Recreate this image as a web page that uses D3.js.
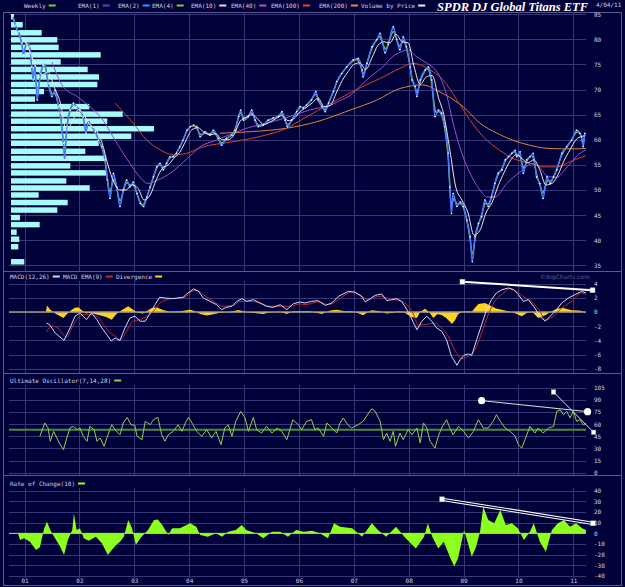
<!DOCTYPE html>
<html>
<head>
<meta charset="utf-8">
<script src="https://cdn.jsdelivr.net/npm/d3@7"></script>
<style>
  body { margin: 0; background: #02023a; }
  svg { display: block; }
</style>
</head>
<body>
<div id="chart"></div>
<script>
// ---- data (dates as fractional years) ----
const yearTicks = [2001, 2002, 2003, 2004, 2005, 2006, 2007, 2008, 2009, 2010, 2011];
const yearLabels = ["01", "02", "03", "04", "05", "06", "07", "08", "09", "10", "11"];
const priceTicks = [85, 80, 75, 70, 65, 60, 55, 50, 45, 40, 35];
const macdTicks = [4, 2, 0, -2, -4, -6, -8];
const uoTicks = [105, 90, 75, 60, 45, 30, 15, 0];
const rocTicks = [40, 30, 20, 10, 0, -10, -20, -30, -40];

const weekly = [[2000.79,84.6],[2000.83,82.8],[2000.89,81.5],[2000.95,79.2],[2000.98,76.9],[2001.04,79.5],[2001.10,78.5],[2001.13,74.5],[2001.16,71.9],[2001.19,75.2],[2001.23,67.9],[2001.28,72.5],[2001.34,74.9],[2001.37,75.2],[2001.43,71.2],[2001.50,68.6],[2001.56,69.9],[2001.62,66.6],[2001.65,65.3],[2001.71,59.3],[2001.73,56.0],[2001.77,62.6],[2001.83,65.9],[2001.89,67.3],[2001.95,66.6],[2002.01,65.9],[2002.07,64.6],[2002.12,61.3],[2002.16,63.9],[2002.22,62.6],[2002.29,61.6],[2002.35,59.9],[2002.41,58.6],[2002.47,56.0],[2002.51,52.0],[2002.56,48.3],[2002.62,53.3],[2002.68,50.6],[2002.74,46.7],[2002.80,50.0],[2002.86,52.0],[2002.92,50.6],[2002.98,51.6],[2003.05,49.3],[2003.11,47.3],[2003.17,46.7],[2003.23,48.6],[2003.29,50.6],[2003.35,52.6],[2003.41,54.6],[2003.47,55.3],[2003.53,54.0],[2003.59,55.3],[2003.65,56.6],[2003.71,56.6],[2003.77,57.3],[2003.83,58.6],[2003.89,59.9],[2003.96,61.9],[2004.02,62.6],[2004.08,62.9],[2004.14,62.6],[2004.20,60.6],[2004.29,61.6],[2004.38,60.9],[2004.44,61.9],[2004.53,60.3],[2004.59,58.9],[2004.68,60.3],[2004.78,60.9],[2004.84,61.9],[2004.90,64.6],[2004.94,65.9],[2004.99,63.9],[2005.08,64.6],[2005.14,65.9],[2005.20,63.9],[2005.26,62.6],[2005.35,62.9],[2005.44,63.9],[2005.53,64.3],[2005.63,64.6],[2005.69,65.6],[2005.75,63.9],[2005.79,62.6],[2005.87,63.9],[2005.96,65.6],[2006.02,66.6],[2006.08,66.3],[2006.14,66.9],[2006.23,67.9],[2006.31,69.6],[2006.35,67.9],[2006.42,66.6],[2006.48,65.6],[2006.54,67.3],[2006.63,69.6],[2006.69,71.6],[2006.78,73.2],[2006.87,74.5],[2006.99,75.9],[2007.08,76.2],[2007.15,73.9],[2007.17,72.5],[2007.24,75.2],[2007.33,78.5],[2007.42,79.9],[2007.48,81.2],[2007.57,77.3],[2007.63,79.0],[2007.72,82.5],[2007.78,80.0],[2007.84,77.9],[2007.90,80.5],[2007.96,78.5],[2008.03,74.5],[2008.06,71.9],[2008.12,70.6],[2008.15,68.6],[2008.21,71.9],[2008.30,73.9],[2008.36,74.5],[2008.42,71.9],[2008.48,64.6],[2008.54,65.9],[2008.60,65.3],[2008.66,62.6],[2008.72,57.3],[2008.75,50.6],[2008.78,45.3],[2008.81,49.3],[2008.88,46.7],[2008.94,47.6],[2009.00,46.7],[2009.06,44.0],[2009.12,40.7],[2009.16,35.7],[2009.21,40.7],[2009.27,43.3],[2009.33,44.7],[2009.39,48.0],[2009.45,46.7],[2009.51,48.6],[2009.57,51.3],[2009.63,53.3],[2009.70,54.0],[2009.76,56.0],[2009.82,56.6],[2009.88,57.3],[2009.94,57.9],[2009.97,56.6],[2010.03,57.6],[2010.09,53.3],[2010.15,56.0],[2010.21,56.6],[2010.27,57.3],[2010.33,52.6],[2010.39,51.3],[2010.45,48.3],[2010.52,52.6],[2010.58,51.3],[2010.64,52.6],[2010.70,54.0],[2010.79,57.3],[2010.88,58.6],[2010.97,59.9],[2011.06,61.9],[2011.12,61.3],[2011.15,60.6],[2011.18,58.6],[2011.21,61.3]];

const ema10 = [[2000.97,80.5],[2001.10,77.5],[2001.21,74.5],[2001.32,73.0],[2001.43,73.5],[2001.54,70.5],[2001.65,67.5],[2001.76,62.0],[2001.87,63.5],[2001.98,66.0],[2002.08,65.0],[2002.19,63.0],[2002.30,62.0],[2002.41,59.5],[2002.52,55.0],[2002.63,51.5],[2002.74,50.0],[2002.85,50.0],[2002.96,51.0],[2003.07,50.3],[2003.18,48.0],[2003.29,49.0],[2003.40,52.0],[2003.51,54.3],[2003.62,55.0],[2003.72,56.3],[2003.83,57.5],[2003.94,59.8],[2004.05,62.0],[2004.16,62.4],[2004.27,61.5],[2004.38,61.0],[2004.49,61.2],[2004.60,60.0],[2004.71,60.0],[2004.82,61.0],[2004.93,63.7],[2005.04,64.5],[2005.15,65.0],[2005.26,64.0],[2005.36,63.0],[2005.47,63.5],[2005.58,64.2],[2005.69,64.8],[2005.80,63.8],[2005.91,64.2],[2006.02,65.6],[2006.13,66.4],[2006.24,67.3],[2006.35,68.3],[2006.46,66.6],[2006.57,66.8],[2006.68,69.3],[2006.79,71.8],[2006.90,73.6],[2007.00,75.0],[2007.11,75.3],[2007.22,74.0],[2007.33,76.3],[2007.44,78.8],[2007.55,79.5],[2007.66,79.3],[2007.77,81.0],[2007.88,79.5],[2007.99,79.3],[2008.10,74.5],[2008.21,71.0],[2008.32,72.5],[2008.43,72.8],[2008.54,68.5],[2008.64,65.0],[2008.75,58.0],[2008.86,50.5],[2008.97,48.0],[2009.08,45.5],[2009.19,41.0],[2009.30,42.0],[2009.41,45.5],[2009.52,47.5],[2009.63,50.8],[2009.74,53.5],[2009.85,55.8],[2009.96,57.0],[2010.07,56.2],[2010.17,55.4],[2010.28,56.0],[2010.39,54.0],[2010.50,51.0],[2010.61,51.3],[2010.72,53.0],[2010.83,55.8],[2010.94,58.0],[2011.05,60.0],[2011.16,60.7],[2011.21,60.8]];

const ema40 = [[2001.50,75.5],[2001.70,70.6],[2001.96,68.6],[2002.19,66.6],[2002.43,63.9],[2002.65,59.9],[2002.92,55.3],[2003.10,52.6],[2003.25,51.3],[2003.43,52.0],[2003.65,53.3],[2003.87,55.3],[2004.07,57.3],[2004.20,58.6],[2004.47,59.8],[2004.80,61.3],[2005.11,62.5],[2005.42,63.3],[2005.71,64.2],[2006.02,65.3],[2006.29,66.2],[2006.51,66.6],[2006.75,67.8],[2006.93,68.8],[2007.11,70.6],[2007.33,72.8],[2007.53,74.5],[2007.70,76.5],[2007.84,77.4],[2007.99,77.9],[2008.15,76.5],[2008.34,75.2],[2008.48,74.0],[2008.57,72.5],[2008.70,68.6],[2008.81,63.3],[2008.97,57.3],[2009.12,53.3],[2009.30,50.0],[2009.43,48.6],[2009.57,48.6],[2009.79,51.3],[2010.03,53.6],[2010.27,55.3],[2010.39,54.5],[2010.52,52.8],[2010.69,52.5],[2010.89,54.6],[2011.12,57.3],[2011.23,58.0]];

const ema100 = [[2002.65,67.3],[2002.98,63.3],[2003.23,59.9],[2003.47,58.0],[2003.71,57.0],[2003.96,57.3],[2004.20,58.4],[2004.80,59.6],[2005.42,61.0],[2005.78,62.3],[2006.02,63.8],[2006.62,67.5],[2007.24,71.0],[2007.48,72.2],[2007.84,74.2],[2008.08,75.2],[2008.39,73.9],[2008.63,71.9],[2008.88,67.9],[2009.12,63.9],[2009.36,60.6],[2009.66,57.9],[2009.90,56.3],[2010.21,55.3],[2010.45,54.6],[2010.70,54.6],[2010.94,55.6],[2011.12,56.4],[2011.23,56.8]];

const ema200 = [[2004.56,61.3],[2005.11,61.6],[2005.78,62.3],[2006.33,63.6],[2006.93,65.9],[2007.42,67.9],[2007.84,70.2],[2008.26,70.9],[2008.57,69.5],[2008.99,66.6],[2009.30,63.3],[2009.61,61.3],[2009.90,59.9],[2010.21,58.9],[2010.52,58.3],[2010.81,58.2],[2011.12,58.2],[2011.23,58.3]];

// volume by price: bin centre price and relative volume
const vbpPrice = [84.5, 82.9, 81.3, 79.9, 78.4, 76.9, 75.5, 74.0, 72.5, 71.0, 69.6, 68.1, 66.6, 65.1, 63.7, 62.2, 60.7, 59.3, 57.7, 56.3, 54.8, 53.4, 51.8, 50.4, 49.0, 47.5, 46.0, 44.5, 43.1, 41.6, 40.2, 38.7, 37.2, 35.7];
const vbpVolume = [3, 11.7, 30.7, 46.3, 47.7, 89.7, 49.7, 76.7, 88, 86.3, 33, 24, 78.3, 111.7, 96.3, 143, 120.3, 87.7, 74.3, 95, 59.3, 95, 55.3, 78.7, 27.7, 56.7, 46.3, 9, 28.7, 5.7, 8.3, 7.3, 0, 13.3];

const macd = [[2001.40,-1.55],[2001.46,-1.8],[2001.56,-2.96],[2001.72,-4.0],[2001.83,-2.25],[2001.92,-0.6],[2002.01,-0.14],[2002.07,-0.6],[2002.13,-1.08],[2002.22,-0.14],[2002.32,-1.08],[2002.41,-2.25],[2002.50,-3.2],[2002.58,-4.1],[2002.65,-3.66],[2002.74,-4.0],[2002.83,-2.25],[2002.92,-0.85],[2003.01,-0.6],[2003.11,-1.3],[2003.20,-1.3],[2003.29,-0.14],[2003.38,1.03],[2003.46,2.07],[2003.56,1.97],[2003.71,1.88],[2003.89,2.07],[2003.98,2.68],[2004.08,3.24],[2004.17,2.9],[2004.26,1.97],[2004.38,1.5],[2004.50,1.03],[2004.59,0.33],[2004.68,0.66],[2004.78,0.8],[2004.87,1.5],[2004.96,1.88],[2005.05,1.5],[2005.17,1.74],[2005.29,1.27],[2005.41,0.8],[2005.53,0.66],[2005.66,1.03],[2005.78,0.33],[2005.90,1.17],[2006.02,1.41],[2006.11,1.27],[2006.23,1.5],[2006.35,1.6],[2006.48,0.94],[2006.60,1.27],[2006.72,2.2],[2006.90,2.9],[2007.02,2.8],[2007.14,2.2],[2007.21,1.41],[2007.30,1.88],[2007.39,2.35],[2007.51,2.54],[2007.60,1.6],[2007.69,1.74],[2007.78,1.88],[2007.87,1.5],[2007.93,0.8],[2008.02,-0.38],[2008.09,-1.55],[2008.15,-2.5],[2008.24,-1.3],[2008.33,-0.6],[2008.42,-1.3],[2008.51,-2.25],[2008.60,-2.7],[2008.69,-3.9],[2008.78,-6.24],[2008.88,-7.5],[2008.94,-6.7],[2009.01,-6.1],[2009.09,-5.9],[2009.15,-6.1],[2009.24,-3.9],[2009.33,-1.79],[2009.42,0.33],[2009.51,1.74],[2009.60,2.68],[2009.70,3.14],[2009.82,3.38],[2009.91,3.14],[2010.00,2.44],[2010.09,1.5],[2010.18,1.74],[2010.30,0.56],[2010.39,-0.6],[2010.49,-1.3],[2010.58,-0.6],[2010.67,0.1],[2010.79,1.27],[2010.91,1.97],[2011.03,2.44],[2011.15,2.9],[2011.24,2.68]];

const macdSignal = [[2001.40,-2.8],[2001.50,-2.0],[2001.59,-2.15],[2001.68,-2.96],[2001.77,-3.56],[2001.86,-2.25],[2001.95,-1.08],[2002.07,-0.38],[2002.19,-0.38],[2002.32,-0.6],[2002.44,-1.79],[2002.53,-2.7],[2002.65,-3.4],[2002.74,-3.9],[2002.86,-2.7],[2002.98,-1.3],[2003.11,-1.08],[2003.23,-0.6],[2003.35,0.1],[2003.47,1.27],[2003.59,1.74],[2003.77,1.97],[2003.92,2.07],[2004.05,2.9],[2004.14,3.1],[2004.26,2.44],[2004.44,1.5],[2004.62,0.8],[2004.81,0.94],[2004.93,1.5],[2005.11,1.5],[2005.29,1.27],[2005.47,0.8],[2005.66,0.8],[2005.84,0.8],[2006.02,1.13],[2006.11,1.03],[2006.35,1.41],[2006.54,1.03],[2006.72,1.74],[2006.96,2.82],[2007.11,2.44],[2007.26,1.74],[2007.45,2.2],[2007.60,1.97],[2007.75,1.74],[2007.93,1.27],[2008.06,0.1],[2008.18,-1.79],[2008.30,-1.79],[2008.45,-1.55],[2008.60,-2.25],[2008.72,-3.4],[2008.85,-5.5],[2008.97,-6.56],[2009.09,-6.2],[2009.21,-5.3],[2009.33,-2.96],[2009.45,-0.38],[2009.57,1.5],[2009.73,2.68],[2009.85,3.3],[2009.97,2.9],[2010.12,1.97],[2010.27,1.27],[2010.39,0.1],[2010.49,-1.08],[2010.64,-0.6],[2010.79,0.56],[2010.97,1.5],[2011.15,2.68],[2011.24,2.44]];

const divergence = [[2001.39,0],[2001.41,0.9],[2001.47,0.3],[2001.56,-0.2],[2001.71,-0.85],[2001.77,-0.3],[2001.86,0.33],[2001.92,0.6],[2001.98,0.66],[2002.05,0.2],[2002.12,-0.2],[2002.19,-0.1],[2002.30,-0.3],[2002.39,-0.5],[2002.50,-0.75],[2002.59,-1.08],[2002.67,-0.3],[2002.76,0.2],[2002.89,0.8],[2002.98,0.3],[2003.07,-0.1],[2003.16,-0.2],[2003.32,0.56],[2003.41,0.66],[2003.51,0.3],[2003.65,0.05],[2003.83,0.1],[2004.02,0.33],[2004.11,0.1],[2004.20,-0.27],[2004.32,-0.5],[2004.44,-0.3],[2004.56,-0.1],[2004.75,0.05],[2004.90,0.28],[2005.02,0.05],[2005.15,-0.1],[2005.35,-0.28],[2005.47,-0.05],[2005.66,0.05],[2005.78,-0.28],[2005.89,0.1],[2006.02,0.1],[2006.20,0.1],[2006.42,-0.28],[2006.57,0.2],[2006.69,0.33],[2006.84,0.1],[2006.97,0.1],[2007.06,-0.1],[2007.17,-0.47],[2007.26,0],[2007.33,0.24],[2007.48,0.1],[2007.59,-0.2],[2007.69,-0.14],[2007.81,0.1],[2007.90,0.05],[2007.97,-0.3],[2008.06,-0.75],[2008.15,-0.85],[2008.21,0],[2008.30,0.47],[2008.37,0],[2008.45,-0.85],[2008.52,-0.3],[2008.59,-0.4],[2008.68,-0.8],[2008.79,-1.7],[2008.85,-1.08],[2008.90,-0.3],[2008.97,0.05],[2009.08,0.1],[2009.15,0.05],[2009.21,0.6],[2009.27,1.13],[2009.39,1.27],[2009.51,0.8],[2009.59,0.5],[2009.70,0.33],[2009.81,0.1],[2009.92,-0.1],[2010.06,-0.6],[2010.16,-0.1],[2010.25,0.05],[2010.36,-0.85],[2010.49,-0.47],[2010.58,0],[2010.70,0.47],[2010.82,0.56],[2010.97,0.24],[2011.09,0.2],[2011.16,0.15],[2011.21,-0.1]];

const ultOsc = [[2001.28,45],[2001.37,61.4],[2001.43,55.2],[2001.47,38.8],[2001.53,51.1],[2001.59,42.9],[2001.65,34.6],[2001.71,28.4],[2001.77,42.9],[2001.83,55.2],[2001.89,57.3],[2001.96,53.1],[2002.01,55.2],[2002.07,45],[2002.14,38.8],[2002.19,57.3],[2002.27,53.1],[2002.32,38.8],[2002.38,42.9],[2002.45,32.6],[2002.51,45],[2002.59,59.3],[2002.65,53.1],[2002.74,46.9],[2002.80,61.4],[2002.87,68.4],[2002.94,59.3],[2003.01,58.5],[2003.05,45],[2003.14,40.8],[2003.20,63.5],[2003.29,59.3],[2003.35,65.5],[2003.43,68.4],[2003.50,46.9],[2003.56,38.8],[2003.62,46.9],[2003.71,51.1],[2003.80,59.3],[2003.87,51.1],[2003.93,61.4],[2003.99,68.4],[2004.07,59.3],[2004.14,51.1],[2004.23,45],[2004.32,53.1],[2004.41,42.9],[2004.49,51.1],[2004.58,34.6],[2004.65,55.2],[2004.71,59.3],[2004.78,45],[2004.85,63.5],[2004.94,75.8],[2005.02,67.6],[2005.08,51.1],[2005.17,68.4],[2005.23,53.1],[2005.32,49],[2005.41,57.3],[2005.51,49],[2005.60,55.2],[2005.69,51.1],[2005.78,40.8],[2005.89,65.5],[2005.99,59.3],[2006.05,53.1],[2006.14,63.5],[2006.23,65.5],[2006.29,53.1],[2006.35,55.2],[2006.45,45],[2006.51,61.4],[2006.60,55.2],[2006.69,49],[2006.75,61.4],[2006.81,67.6],[2006.89,59.3],[2006.96,55.2],[2007.08,59.3],[2007.17,63.5],[2007.27,73.7],[2007.33,79.1],[2007.39,75.8],[2007.48,63.5],[2007.54,40.8],[2007.60,49],[2007.66,38.8],[2007.72,51.1],[2007.76,32.6],[2007.84,49],[2007.90,40.8],[2007.99,53.1],[2008.06,46.9],[2008.15,55.2],[2008.21,36.7],[2008.27,61.4],[2008.33,55.2],[2008.39,38.8],[2008.48,30.5],[2008.54,45],[2008.60,55.2],[2008.69,65.5],[2008.75,55.2],[2008.81,46.9],[2008.91,57.3],[2009.00,51.1],[2009.09,42.9],[2009.18,51.1],[2009.27,65.5],[2009.36,55.2],[2009.45,55.2],[2009.54,63.5],[2009.60,71.6],[2009.67,63.5],[2009.76,55.2],[2009.85,51.1],[2009.94,45],[2010.00,34.6],[2010.06,30.5],[2010.12,40.8],[2010.21,57.3],[2010.30,49],[2010.36,55.2],[2010.45,49],[2010.55,55.2],[2010.64,57.3],[2010.70,75.8],[2010.76,77.8],[2010.82,71.6],[2010.88,75.8],[2010.94,67.6],[2011.00,75.8],[2011.06,63.5],[2011.12,65.5],[2011.18,59.3],[2011.25,61.4]];
const uoReference = 53;

const roc = [[2000.74,0],[2000.88,0],[2000.92,-6.2],[2000.99,-4.7],[2001.10,-7.8],[2001.21,-15.6],[2001.28,-13],[2001.36,4.7],[2001.41,10.9],[2001.47,3.1],[2001.54,-3.1],[2001.65,-12.5],[2001.72,-20.3],[2001.79,-6.2],[2001.87,3.1],[2001.90,18.7],[2001.95,3.1],[2002.01,4.7],[2002.08,-4.7],[2002.17,-6.9],[2002.30,-3.1],[2002.41,-9.4],[2002.52,-20.3],[2002.59,-15.6],[2002.67,-10.9],[2002.74,-7.8],[2002.81,-3.1],[2002.89,12.5],[2002.96,4.7],[2003.03,-10.9],[2003.11,-4.7],[2003.25,3.1],[2003.36,12.5],[2003.43,13.1],[2003.51,7.8],[2003.62,-1.6],[2003.69,4.7],[2003.83,4.7],[2004.02,9.4],[2004.13,6.2],[2004.20,-1.6],[2004.34,-3.1],[2004.49,0],[2004.60,-3.1],[2004.71,1.6],[2004.85,3.1],[2004.96,7.8],[2005.04,3.1],[2005.22,0],[2005.35,-4.7],[2005.51,1.6],[2005.66,1.6],[2005.80,-3.1],[2005.95,3.1],[2006.09,1.6],[2006.24,2.5],[2006.38,0],[2006.53,-4.7],[2006.64,9.4],[2006.75,6.2],[2006.97,4.7],[2007.15,-3.1],[2007.33,9.4],[2007.44,3.1],[2007.59,-3.1],[2007.77,6.2],[2007.92,-3.1],[2008.13,-14.1],[2008.28,-3.1],[2008.35,9.4],[2008.43,-3.1],[2008.54,-14.1],[2008.64,-7.8],[2008.75,-21.9],[2008.83,-31.2],[2008.90,-23.4],[2009.01,3.1],[2009.08,-9.4],[2009.15,-21.9],[2009.23,-12.5],[2009.30,1.6],[2009.36,25],[2009.45,12.5],[2009.56,9.4],[2009.67,21.9],[2009.77,7.8],[2009.88,9.4],[2009.99,4.7],[2010.10,-6.2],[2010.21,1.6],[2010.28,9.4],[2010.39,-7.8],[2010.50,-17.2],[2010.61,3.1],[2010.72,9.4],[2010.83,12.5],[2010.94,6.2],[2011.05,9.4],[2011.16,4.7],[2011.23,3.1]];

// hand-drawn trendlines (date, value)
const macdTrend = [[2008.98, 4.27], [2011.35, 3.06]];
const uoTrendA = [[2009.33, 89], [2011.26, 75.4]];
const uoTrendB = [[2010.64, 99.7], [2011.37, 49.9]];
const rocTrend = [[2008.61, 31.9], [2011.36, 9.4]];

const legendItems = [
  { label: "Weekly", color: "#6fcf3a", x: 24 },
  { label: "EMA(1)", color: "#5a3fd6", x: 78 },
  { label: "EMA(2)", color: "#2f8fff", x: 118 },
  { label: "EMA(4)", color: "#82c545", x: 152 },
  { label: "EMA(10)", color: "#f2d6d6", x: 191 },
  { label: "EMA(40)", color: "#a557d8", x: 231 },
  { label: "EMA(100)", color: "#e0452a", x: 271 },
  { label: "EMA(200)", color: "#e08a4a", x: 319 },
  { label: "Volume by Price", color: "#d8ffff", x: 361 }
];

// ---- layout ----
const W = 625, H = 587;
const plotL = 9, plotR = 586;
const bg = "#02023a", gridC = "#37377a", frameC = "#5a5a90", textC = "#d0d0e4";
const mono = "'DejaVu Sans Mono', monospace";

const svg = d3.select("#chart").append("svg")
  .attr("width", W).attr("height", H)
  .style("background", bg);

const x = d3.scaleLinear().domain([2001, 2011]).range([24.5, 573.3]);

const panels = [
  { key: "main", y: d3.scaleLinear().domain([35, 85]).range([265.3, 14.2]), top: 12, bottom: 271, ticks: priceTicks },
  { key: "macd", y: d3.scaleLinear().domain([-8, 4]).range([368.8, 283.6]), top: 281, bottom: 373, ticks: macdTicks },
  { key: "uo", y: d3.scaleLinear().domain([0, 105]).range([472.7, 387.7]), top: 385, bottom: 475, ticks: uoTicks },
  { key: "roc", y: d3.scaleLinear().domain([-40, 40]).range([576, 490.7]), top: 488, bottom: 578, ticks: rocTicks }
];
const P = {};
panels.forEach(p => P[p.key] = p);

// frame lines
const frame = svg.append("g").attr("stroke", frameC).attr("fill", "none");
frame.append("rect").attr("x", 3.5).attr("y", 12.5).attr("width", 618).attr("height", 573);
[271.5, 373.5, 475.5].forEach(yy =>
  frame.append("line").attr("x1", 3.5).attr("x2", 621.5).attr("y1", yy).attr("y2", yy));

// grids and right axes
panels.forEach(p => {
  const g = svg.append("g");
  g.selectAll(".h").data(p.ticks).join("line")
    .attr("x1", plotL).attr("x2", plotR)
    .attr("y1", d => Math.round(p.y(d)) + 0.5).attr("y2", d => Math.round(p.y(d)) + 0.5)
    .attr("stroke", gridC);
  g.selectAll(".v").data(yearTicks).join("line")
    .attr("x1", d => Math.round(x(d)) + 0.5).attr("x2", d => Math.round(x(d)) + 0.5)
    .attr("y1", p.top).attr("y2", p.bottom)
    .attr("stroke", gridC);

  const ax = svg.append("g")
    .attr("transform", `translate(594,0)`)
    .call(d3.axisRight(p.y).tickValues(p.ticks).tickSize(0).tickPadding(0).tickFormat(d => String(d)));
  ax.select(".domain").remove();
  ax.selectAll("text").attr("fill", textC).style("font-family", mono).style("font-size", "6px");
});

// x axis labels at the bottom
const xa = svg.append("g").attr("transform", "translate(0,579)")
  .call(d3.axisBottom(x).tickValues(yearTicks).tickSize(0).tickPadding(0).tickFormat((d, i) => yearLabels[i]));
xa.select(".domain").remove();
xa.selectAll("text").attr("fill", textC).style("font-family", mono).style("font-size", "6px");

// clip paths per panel
const defs = svg.append("defs");
panels.forEach(p => {
  defs.append("clipPath").attr("id", "clip-" + p.key)
    .append("rect").attr("x", plotL).attr("y", p.top).attr("width", plotR - plotL).attr("height", p.bottom - p.top);
});

// ---- main price panel ----
const yP = P.main.y;
const main = svg.append("g").attr("clip-path", "url(#clip-main)");

const vol = d3.scaleLinear().domain([0, 150]).range([0, 150]);
const binStep = vbpPrice[0] - vbpPrice[1];
const barH = Math.abs(yP(0) - yP(binStep)) * 0.68;
main.selectAll(".vbp").data(vbpPrice).join("rect")
  .attr("x", 11)
  .attr("y", d => yP(d) - barH / 2)
  .attr("width", (d, i) => vol(vbpVolume[i]))
  .attr("height", barH)
  .attr("fill", "#a6fbfb");

const line = (ys, curve) => d3.line().curve(curve || d3.curveLinear).x(d => x(d[0])).y(d => ys(d[1]));

main.append("path").datum(ema200).attr("fill", "none").attr("stroke", "#d9823f").attr("stroke-width", 1)
  .attr("d", line(yP, d3.curveMonotoneX));
main.append("path").datum(ema100).attr("fill", "none").attr("stroke", "#d5402a").attr("stroke-width", 1)
  .attr("d", line(yP, d3.curveMonotoneX));
main.append("path").datum(ema40).attr("fill", "none").attr("stroke", "#9a4fd0").attr("stroke-width", 1)
  .attr("d", line(yP, d3.curveMonotoneX));

main.append("path").datum(weekly).attr("fill", "none").attr("stroke", "#82c545").attr("stroke-width", 1.4)
  .attr("d", line(yP, d3.curveBasis));
main.append("path").datum(weekly).attr("fill", "none").attr("stroke", "#2f8fff").attr("stroke-width", 1.3)
  .attr("d", line(yP, d3.curveMonotoneX));
main.append("path").datum(weekly).attr("fill", "none").attr("stroke", "#5a6cff").attr("stroke-width", 0.8)
  .attr("d", line(yP));
main.append("path").datum(ema10).attr("fill", "none").attr("stroke", "#f4e2e2").attr("stroke-width", 1)
  .attr("d", line(yP, d3.curveMonotoneX));
main.selectAll(".dot").data(weekly).join("circle")
  .attr("cx", d => x(d[0])).attr("cy", d => yP(d[1])).attr("r", 0.8).attr("fill", "#ffffff");

// ---- MACD panel ----
const yM = P.macd.y;
const mg = svg.append("g").attr("clip-path", "url(#clip-macd)");
mg.append("path").datum(divergence).attr("fill", "#ffd21f")
  .attr("d", d3.area().x(d => x(d[0])).y0(yM(0)).y1(d => yM(d[1])));
mg.append("line").attr("x1", plotL).attr("x2", plotR).attr("y1", yM(0)).attr("y2", yM(0))
  .attr("stroke", "#a49a82").attr("stroke-width", 1.5);
mg.append("path").datum(macdSignal).attr("fill", "none").attr("stroke", "#b52b2b").attr("stroke-width", 1)
  .attr("d", line(yM, d3.curveMonotoneX));
mg.append("path").datum(macd).attr("fill", "none").attr("stroke", "#c8dcff").attr("stroke-width", 1)
  .attr("d", line(yM));

// ---- Ultimate oscillator ----
const yU = P.uo.y;
const ug = svg.append("g").attr("clip-path", "url(#clip-uo)");
ug.append("line").attr("x1", plotL).attr("x2", plotR).attr("y1", yU(uoReference)).attr("y2", yU(uoReference))
  .attr("stroke", "#4e8a3c").attr("stroke-width", 2);
ug.append("path").datum(ultOsc).attr("fill", "none").attr("stroke", "#8fd14f").attr("stroke-width", 1)
  .attr("d", line(yU));

// ---- Rate of change ----
const yR = P.roc.y;
const rg = svg.append("g").attr("clip-path", "url(#clip-roc)");
rg.append("path").datum(roc).attr("fill", "#8cff1e")
  .attr("d", d3.area().x(d => x(d[0])).y0(yR(0)).y1(d => yR(d[1])));
rg.append("line").attr("x1", plotL).attr("x2", x(roc[roc.length - 1][0])).attr("y1", yR(0)).attr("y2", yR(0))
  .attr("stroke", "#8cff1e").attr("stroke-width", 1);

// ---- trendlines ----
const square = (g, px, py, s) => g.append("rect").attr("x", px - s / 2).attr("y", py - s / 2)
  .attr("width", s).attr("height", s).attr("fill", "#ffffff").attr("stroke", "#9a9a9a").attr("stroke-width", 0.5);

const tg = svg.append("g");
tg.append("line")
  .attr("x1", x(macdTrend[0][0])).attr("y1", yM(macdTrend[0][1]))
  .attr("x2", x(macdTrend[1][0])).attr("y2", yM(macdTrend[1][1]))
  .attr("stroke", "#ffffff").attr("stroke-width", 2);
macdTrend.forEach(d => square(tg, x(d[0]), yM(d[1]), 5));

tg.append("line")
  .attr("x1", x(uoTrendA[0][0])).attr("y1", yU(uoTrendA[0][1]))
  .attr("x2", x(uoTrendA[1][0])).attr("y2", yU(uoTrendA[1][1]))
  .attr("stroke", "#dcdcdc").attr("stroke-width", 1);
tg.append("line")
  .attr("x1", x(uoTrendB[0][0])).attr("y1", yU(uoTrendB[0][1]))
  .attr("x2", x(uoTrendB[1][0])).attr("y2", yU(uoTrendB[1][1]))
  .attr("stroke", "#dcdcdc").attr("stroke-width", 1);
uoTrendA.forEach(d => tg.append("circle").attr("cx", x(d[0])).attr("cy", yU(d[1])).attr("r", 3.6).attr("fill", "#ffffff"));
uoTrendB.forEach(d => square(tg, x(d[0]), yU(d[1]), 4.5));

tg.append("line")
  .attr("x1", x(rocTrend[0][0])).attr("y1", yR(rocTrend[0][1]))
  .attr("x2", x(rocTrend[1][0])).attr("y2", yR(rocTrend[1][1]))
  .attr("stroke", "#ffffff").attr("stroke-width", 3.4);
tg.append("line")
  .attr("x1", x(rocTrend[0][0])).attr("y1", yR(rocTrend[0][1]))
  .attr("x2", x(rocTrend[1][0])).attr("y2", yR(rocTrend[1][1]))
  .attr("stroke", bg).attr("stroke-width", 1.2);
rocTrend.forEach(d => square(tg, x(d[0]), yR(d[1]), 5));

// ---- texts: legends, headers, title ----
const txt = (tx, ty, s, opts = {}) => svg.append("text").attr("x", tx).attr("y", ty).text(s)
  .attr("fill", opts.fill || textC).style("font-family", opts.family || mono)
  .style("font-size", opts.size || "6px").attr("text-anchor", opts.anchor || "start");

const legendRow = (items, ty) => items.forEach(it => {
  const t = txt(it.x, ty, it.label);
  const w = t.node().getComputedTextLength();
  svg.append("rect").attr("x", it.x + w + 3).attr("y", ty - 3).attr("width", 7).attr("height", 2).attr("fill", it.color);
});

legendRow(legendItems, 7.5);
legendRow([
  { label: "MACD(12,26)", color: "#c8dcff", x: 10 },
  { label: "MACD EMA(9)", color: "#c02a2a", x: 63 },
  { label: "Divergence", color: "#ffd21f", x: 116 }
], 278.5);
legendRow([{ label: "Ultimate Oscillator(7,14,28)", color: "#8fd14f", x: 10 }], 382.5);
legendRow([{ label: "Rate of Change(10)", color: "#8cff1e", x: 10 }], 485.5);

txt(588, 11, "SPDR DJ Global Titans ETF", {
  fill: "#ffffff", family: "'Liberation Serif', serif", size: "12.5px", anchor: "end"
}).style("font-weight", "bold").style("font-style", "italic");
txt(596, 7, "4/04/11");
txt(590, 279, "\u00A9BigCharts.com", { fill: "#5a5a8e", family: "'DejaVu Sans', sans-serif", size: "6px", anchor: "end" });
</script>
</body>
</html>
